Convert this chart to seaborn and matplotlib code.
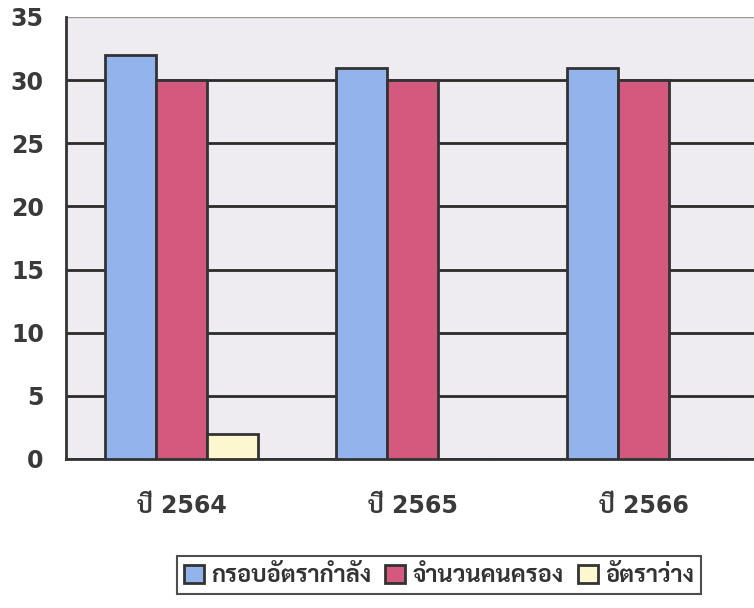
import pandas as pd
import seaborn as sns
from matplotlib import pyplot as plt

years = ['ปี 2564', 'ปี 2565', 'ปี 2566']
series = ['กรอบอัตรากำลัง', 'จำนวนคนครอง', 'อัตราว่าง']
frame_vals = [32, 31, 31]
held_vals = [30, 30, 30]
vacant_vals = [2, 0, 0]
colors = ['#93b3ec', '#d35a7e', '#fdf7cf']

rows = []
for i, y in enumerate(years):
    for s, vals in zip(series, [frame_vals, held_vals, vacant_vals]):
        rows.append({'year': y, 'series': s, 'value': vals[i]})
df = pd.DataFrame(rows)

sns.set_theme(style='white')
plt.rcParams['font.family'] = ['DejaVu Sans', 'Sarabun']

fig = plt.figure(figsize=(7.54, 6.08), dpi=100)
ax = fig.add_axes([66/754, 149/608, 688/754, 442/608])
ax.set_facecolor('#eeebf1')

sns.barplot(data=df, x='year', y='value', hue='series', palette=colors,
            saturation=1, width=0.66, edgecolor='#333333', linewidth=2,
            ax=ax, zorder=3)

ax.set_ylim(0, 35)
ax.set_xlim(-0.5, -0.5 + 688/231)
ax.set_yticks(range(0, 36, 5))
ax.grid(axis='y', color='#2b2b2b', linewidth=2, zorder=0)
ax.yaxis.get_gridlines()[-1].set_color('#9a9a9a')
ax.yaxis.get_gridlines()[-1].set_linewidth(1)
ax.set_axisbelow(True)

for side in ['top', 'right']:
    ax.spines[side].set_visible(False)
for side in ['left', 'bottom']:
    ax.spines[side].set_color('#333333')
    ax.spines[side].set_linewidth(2)

ax.tick_params(axis='y', direction='out', length=8, width=2, color='#333333',
               pad=8, labelsize=17, labelcolor='#3a3a3a')
ax.tick_params(axis='x', which='major', length=0, pad=25, labelsize=17,
               labelcolor='#3a3a3a')
ax.set_xticks([-0.5, 0.5, 1.5], minor=True)
ax.tick_params(axis='x', which='minor', direction='out', length=8, width=2,
               color='#333333')
for t in ax.get_xticklabels() + ax.get_yticklabels():
    t.set_fontweight('bold')
ax.set_xlabel('')
ax.set_ylabel('')

h, l = ax.get_legend_handles_labels()
ax.get_legend().remove()
leg = fig.legend(h, l, loc='center', bbox_to_anchor=(0.582, 0.054), ncol=3,
                 frameon=True, fancybox=False, edgecolor='#222222',
                 fontsize=17, handlelength=0.85, handleheight=0.85,
                 handletextpad=0.3, columnspacing=0.6, borderpad=0.3,
                 borderaxespad=0)
leg.get_frame().set_linewidth(1.5)
for t in leg.get_texts():
    t.set_fontweight('bold')
    t.set_color('#333333')

fig.savefig('out.png', dpi=100)
